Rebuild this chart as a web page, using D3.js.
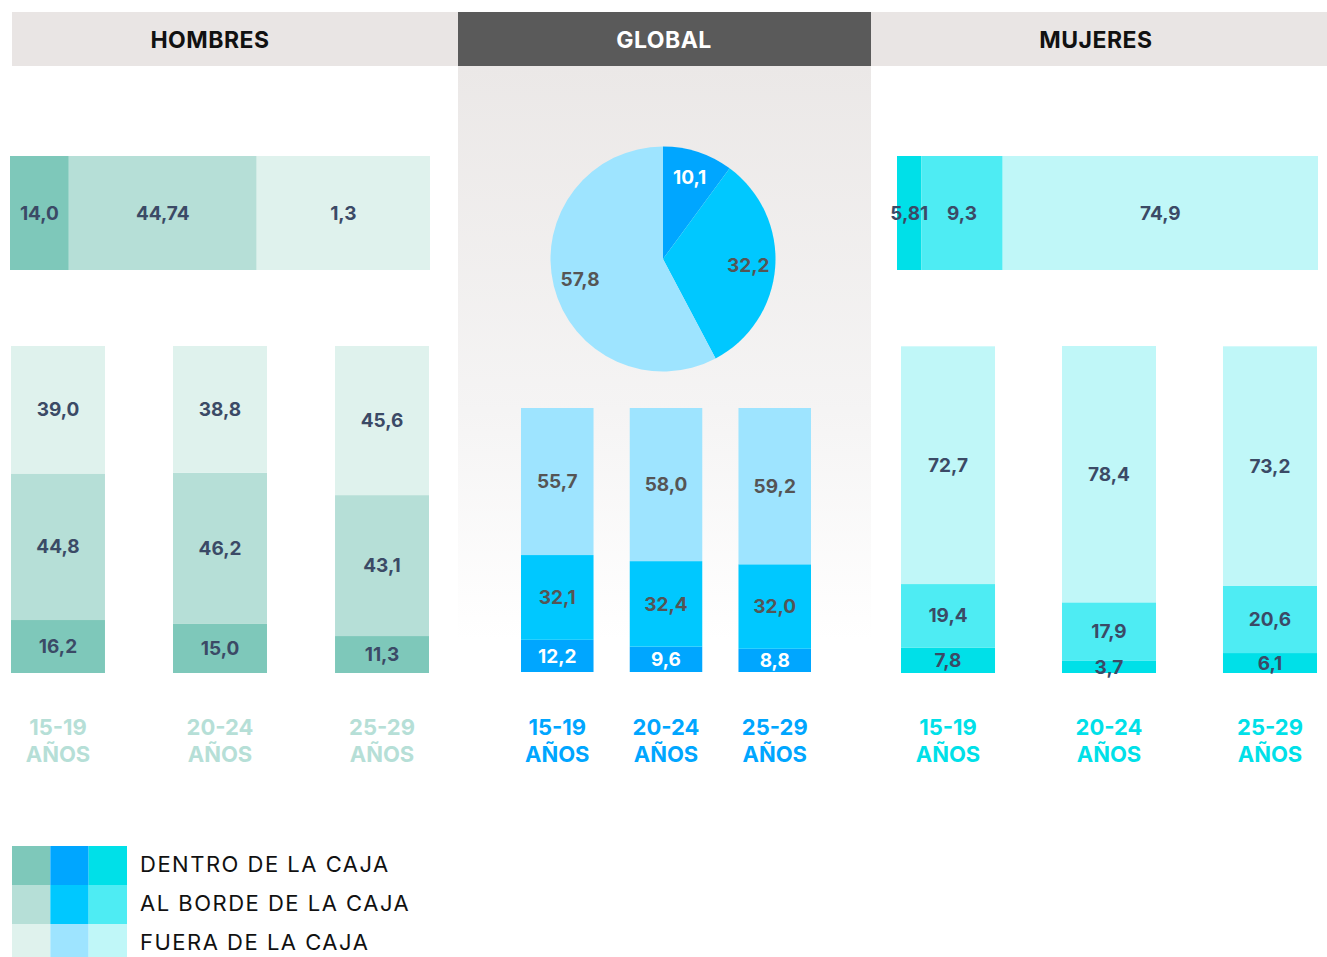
<!DOCTYPE html>
<html>
<head>
<meta charset="utf-8">
<script src="https://cdn.jsdelivr.net/npm/d3@7"></script>
<style>
  body { margin: 0; background: #fff; }
  svg { display: block; font-family: Inter, 'Open Sans', sans-serif; }
</style>
</head>
<body>
<div id="chart"></div>
<script>
// datos
const ageGroups = ['15-19', '20-24', '25-29'];
const levels = ['dentro', 'borde', 'fuera'];
const levelLabels = ['DENTRO DE LA CAJA', 'AL BORDE DE LA CAJA', 'FUERA DE LA CAJA'];

const hombresDentro = [16.2, 15.0, 11.3];
const hombresBorde = [44.8, 46.2, 43.1];
const hombresFuera = [39.0, 38.8, 45.6];

const globalDentro = [12.2, 9.6, 8.8];
const globalBorde = [32.1, 32.4, 32.0];
const globalFuera = [55.7, 58.0, 59.2];

const mujeresDentro = [7.8, 3.7, 6.1];
const mujeresBorde = [19.4, 17.9, 20.6];
const mujeresFuera = [72.7, 78.4, 73.2];

// totales (las etiquetas se muestran tal cual aparecen en el original)
const hombresTotal = [14.0, 44.74, 41.26];
const hombresTotalLabels = ['14,0', '44,74', '1,3'];
const mujeresTotal = [5.81, 19.29, 74.9];
const mujeresTotalLabels = ['5,81', '9,3', '74,9'];
const globalTotal = [10.1, 32.2, 57.8];

const headers = ['HOMBRES', 'GLOBAL', 'MUJERES'];

const COLORS = {
    hombres: ['#7ec8ba', '#b6dfd7', '#dff2ed'],
    global: ['#00a6ff', '#00c8ff', '#9ee4ff'],
    mujeres: ['#00e0e8', '#4eecf3', '#c0f7f8']
};

const fmt = v => d3.format('.1f')(v).replace('.', ',');
const TEXT_DARK = '#3b4a66';
const TEXT_GRAY = '#555555';
const VALUE_SIZE = 19;

const width = 1327, height = 957;
const svg = d3.select('#chart').append('svg')
    .attr('width', width)
    .attr('height', height);

// fondo degradado del panel global
const defs = svg.append('defs');
const grad = defs.append('linearGradient')
    .attr('id', 'globalBg')
    .attr('x1', 0).attr('y1', 0).attr('x2', 0).attr('y2', 1);
grad.append('stop').attr('offset', '0%').attr('stop-color', '#ebe8e7');
grad.append('stop').attr('offset', '60%').attr('stop-color', '#f5f4f4');
grad.append('stop').attr('offset', '100%').attr('stop-color', '#ffffff');

svg.append('rect')
    .attr('x', 458).attr('y', 66)
    .attr('width', 413).attr('height', 574)
    .attr('fill', 'url(#globalBg)');

// cabeceras
const headerX = d3.scaleOrdinal().domain(headers).range([[12, 458], [458, 871], [871, 1327]]);
const headerTextX = d3.scaleOrdinal().domain(headers).range([210, 664, 1096]);
const headerG = svg.selectAll('.header')
    .data(headers)
    .enter().append('g')
    .attr('class', 'header');
headerG.append('rect')
    .attr('x', d => headerX(d)[0])
    .attr('y', 12)
    .attr('width', d => headerX(d)[1] - headerX(d)[0])
    .attr('height', 54)
    .attr('fill', d => d === 'GLOBAL' ? '#5a5a5a' : '#e9e5e4');
headerG.append('text')
    .attr('x', d => headerTextX(d))
    .attr('y', 40)
    .attr('dy', '0.35em')
    .attr('text-anchor', 'middle')
    .attr('font-size', 23)
    .attr('font-weight', 700)
    .attr('letter-spacing', 0.5)
    .attr('fill', d => d === 'GLOBAL' ? '#ffffff' : '#111111')
    .text(d => d);

// barra horizontal apilada
function drawHBar(values, labels, colors, x0, x1, y0, y1) {
    const x = d3.scaleLinear().domain([0, d3.sum(values)]).range([x0, x1]);
    const starts = values.map((v, i) => d3.sum(values.slice(0, i)));
    const g = svg.append('g');
    g.selectAll('rect')
        .data(values)
        .enter().append('rect')
        .attr('x', (d, i) => x(starts[i]))
        .attr('y', y0)
        .attr('width', d => x(d) - x(0))
        .attr('height', y1 - y0)
        .attr('fill', (d, i) => colors[i]);
    g.selectAll('text')
        .data(values)
        .enter().append('text')
        .attr('x', (d, i) => x(starts[i] + d / 2))
        .attr('y', (y0 + y1) / 2)
        .attr('dy', '0.35em')
        .attr('text-anchor', 'middle')
        .attr('font-size', VALUE_SIZE)
        .attr('font-weight', 700)
        .attr('fill', TEXT_DARK)
        .text((d, i) => labels[i]);
}

drawHBar(hombresTotal, hombresTotalLabels, COLORS.hombres, 10, 430, 156, 270);
drawHBar(mujeresTotal, mujeresTotalLabels, COLORS.mujeres, 897, 1318, 156, 270);

// barras verticales apiladas
function drawVBars(series, colors, range, padding, yTop, yBottom, labelColors, axisColor) {
    const x = d3.scaleBand().domain(ageGroups).range(range).paddingInner(padding);
    const y = d3.scaleLinear().domain([0, 100]).range([yBottom, yTop]);
    const rows = ageGroups.map((age, i) => {
        const row = { age };
        levels.forEach((k, j) => { row[k] = series[j][i]; });
        return row;
    });
    const stacked = d3.stack().keys(levels)(rows);
    const g = svg.append('g');

    const layer = g.selectAll('.layer')
        .data(stacked)
        .enter().append('g')
        .attr('class', 'layer')
        .attr('fill', (d, i) => colors[i]);
    layer.selectAll('rect')
        .data(d => d)
        .enter().append('rect')
        .attr('x', d => x(d.data.age))
        .attr('y', d => y(d[1]))
        .attr('width', x.bandwidth())
        .attr('height', d => y(d[0]) - y(d[1]));

    const labelLayer = g.selectAll('.labels')
        .data(stacked)
        .enter().append('g')
        .attr('class', 'labels')
        .attr('fill', (d, i) => labelColors[i]);
    labelLayer.selectAll('text')
        .data(d => d)
        .enter().append('text')
        .attr('x', d => x(d.data.age) + x.bandwidth() / 2)
        .attr('y', d => (y(d[0]) + y(d[1])) / 2)
        .attr('dy', '0.35em')
        .attr('text-anchor', 'middle')
        .attr('font-size', VALUE_SIZE)
        .attr('font-weight', 700)
        .text(d => fmt(d[1] - d[0]));

    // etiquetas del eje
    const axisLabel = g.selectAll('.age')
        .data(ageGroups)
        .enter().append('text')
        .attr('class', 'age')
        .attr('text-anchor', 'middle')
        .attr('font-size', 22)
        .attr('font-weight', 700)
        .attr('fill', axisColor);
    axisLabel.append('tspan')
        .attr('x', d => x(d) + x.bandwidth() / 2)
        .attr('y', 735)
        .text(d => d);
    axisLabel.append('tspan')
        .attr('x', d => x(d) + x.bandwidth() / 2)
        .attr('y', 762)
        .text('AÑOS');
}

drawVBars([hombresDentro, hombresBorde, hombresFuera], COLORS.hombres,
    [11, 429], 0.42, 346, 673, [TEXT_DARK, TEXT_DARK, TEXT_DARK], '#b6dfd7');
drawVBars([globalDentro, globalBorde, globalFuera], COLORS.global,
    [521, 811], 0.333, 408, 672, ['#ffffff', TEXT_GRAY, TEXT_GRAY], '#00a6ff');
drawVBars([mujeresDentro, mujeresBorde, mujeresFuera], COLORS.mujeres,
    [901, 1317], 0.416, 346, 673, [TEXT_DARK, TEXT_DARK, TEXT_DARK], '#00e0e8');

// tarta global
const radius = 112.5;
const pie = d3.pie().sort(null).value(d => d);
const arc = d3.arc().innerRadius(0).outerRadius(radius);
const labelArc = d3.arc().innerRadius(radius * 0.76).outerRadius(radius * 0.76);
const pieG = svg.append('g')
    .attr('transform', 'translate(663,259)');
const arcs = pie(globalTotal);
pieG.selectAll('path')
    .data(arcs)
    .enter().append('path')
    .attr('d', arc)
    .attr('fill', (d, i) => COLORS.global[i]);
pieG.selectAll('text')
    .data(arcs)
    .enter().append('text')
    .attr('transform', d => `translate(${labelArc.centroid(d)})`)
    .attr('dy', '0.35em')
    .attr('text-anchor', 'middle')
    .attr('font-size', VALUE_SIZE)
    .attr('font-weight', 700)
    .attr('fill', (d, i) => i === 0 ? '#ffffff' : TEXT_GRAY)
    .text(d => fmt(d.data));

// leyenda
const legend = svg.append('g');
const legendX = d3.scaleBand().domain(['hombres', 'global', 'mujeres']).range([12, 127]);
const legendY = d3.scaleBand().domain(levels).range([846, 963]);
['hombres', 'global', 'mujeres'].forEach(group => {
    legend.selectAll(null)
        .data(levels)
        .enter().append('rect')
        .attr('x', legendX(group))
        .attr('y', d => legendY(d))
        .attr('width', legendX.bandwidth())
        .attr('height', legendY.bandwidth())
        .attr('fill', (d, i) => COLORS[group][i]);
});
legend.selectAll('text')
    .data(levels)
    .enter().append('text')
    .attr('x', 140)
    .attr('y', d => legendY(d) + legendY.bandwidth() / 2)
    .attr('dy', '0.3em')
    .attr('font-size', 22)
    .attr('letter-spacing', 1.5)
    .attr('fill', '#111111')
    .text((d, i) => levelLabels[i]);
</script>
</body>
</html>
